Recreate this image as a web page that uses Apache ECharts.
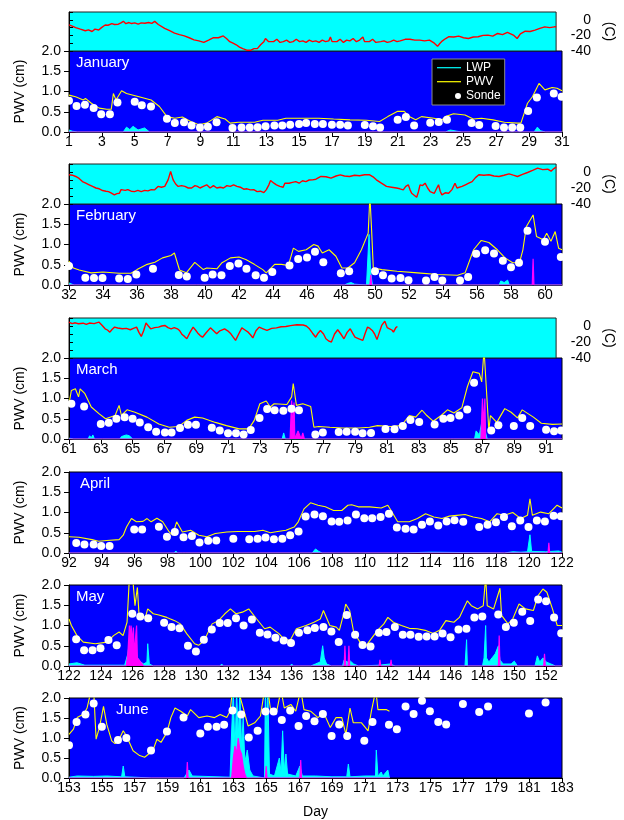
<!DOCTYPE html>
<html><head><meta charset="utf-8">
<script src="https://cdn.jsdelivr.net/npm/echarts@6/dist/echarts.min.js"></script>
<style>html,body{margin:0;padding:0;background:#fff}#c{width:624px;height:820px}</style>
</head><body><div id="c"></div>
<script>
// ---------------- DATA ----------------
const months = ['January','February','March','April','May','June'];
const startDays = [1,32,61,92,122,153];
const endDays = [31,61,92,122,153,183];
const pwvTickLabels = ['0.0','0.5','1.0','1.5','2.0'];
const tempTickLabels = ['0','-20','-40'];

// Air temperature (C): [day, value]
const tempJan = [[1.0,-6.6],[1.2,-8],[1.41,-10],[1.7,-12],[2.0,-14],[2.2,-13],[2.42,-15],[2.6,-12],[2.83,-13],[3.0,-10],[3.23,-6.6],[3.4,-7],[3.64,-5],[3.8,-6],[4.04,-5.7],[4.2,-4],[4.35,-2],[4.5,-5],[4.7,-3.5],[4.86,-4.8],[5.05,-4],[5.26,-5.6],[5.45,-4],[5.67,-4.5],[5.9,-3.5],[6.1,-4.5],[6.28,-2],[6.5,-6],[6.89,-11],[7.2,-14],[7.5,-17],[7.8,-19],[8.1,-20.7],[8.4,-23],[8.7,-25.7],[9.0,-27],[9.3,-29],[9.6,-26],[9.9,-22.8],[10.2,-23],[10.5,-20.7],[10.7,-24],[10.9,-28],[11.1,-30],[11.3,-32],[11.5,-35],[11.7,-37],[11.95,-39],[12.2,-39],[12.4,-37],[12.6,-37],[12.8,-32],[13.0,-28],[13.1,-24],[13.3,-28],[13.6,-28],[13.8,-25],[14.0,-29],[14.2,-28],[14.4,-26],[14.6,-29],[14.8,-28],[15.0,-25],[15.2,-28],[15.4,-27],[15.6,-29],[15.8,-26],[16.0,-28],[16.2,-27],[16.4,-29],[16.6,-26],[16.8,-28],[17.0,-27],[17.1,-22],[17.2,-28],[17.5,-28],[17.7,-25],[17.9,-29],[18.1,-26],[18.3,-27],[18.5,-24],[18.7,-28],[18.9,-26],[19.1,-22],[19.2,-28],[19.5,-28],[19.7,-25],[19.9,-29],[20.2,-28],[20.4,-27],[20.6,-29],[20.8,-28],[21.0,-26],[21.2,-28],[21.4,-27],[21.7,-25],[22.0,-25],[22.3,-26],[22.6,-26],[22.9,-27],[23.2,-26],[23.5,-30],[23.7,-34],[23.85,-30],[24.0,-27],[24.2,-24],[24.4,-21.7],[24.7,-22],[25.0,-21],[25.3,-23],[25.6,-24],[25.9,-22],[26.2,-21.7],[26.5,-20],[26.8,-19.6],[27.1,-21],[27.4,-17.5],[27.7,-19],[28.0,-16],[28.2,-18],[28.4,-20],[28.6,-24],[28.8,-18],[29.1,-14.6],[29.4,-15],[29.7,-13.3],[30.0,-11],[30.3,-9],[30.6,-10],[30.9,-9],[31.0,-9]];
const tempFeb = [[32.0,-3.5],[32.2,-4],[32.4,-5.6],[32.6,-8],[32.8,-12],[33.0,-14],[33.2,-16],[33.4,-18],[33.6,-20],[33.8,-21],[34.0,-23.2],[34.2,-24],[34.35,-24.5],[34.5,-26],[34.7,-28.6],[34.85,-27],[35.0,-26.6],[35.1,-22],[35.2,-20],[35.35,-23],[35.5,-22],[35.7,-24],[35.9,-24.5],[36.1,-23],[36.3,-24.5],[36.5,-23],[36.7,-23.6],[36.9,-22],[37.1,-22.3],[37.3,-18],[37.5,-19],[37.7,-18],[37.9,-9.8],[38.05,0.7],[38.2,-9.8],[38.35,-15],[38.5,-18],[38.7,-17],[38.9,-18],[39.1,-20],[39.3,-20],[39.5,-17],[39.65,-18],[39.8,-20],[40.0,-18],[40.2,-16],[40.4,-20],[40.6,-17],[40.8,-20],[41.0,-19],[41.2,-20],[41.4,-17],[41.6,-18],[41.8,-16],[42.0,-18],[42.2,-19],[42.4,-21.5],[42.6,-21],[42.8,-22.3],[43.0,-22],[43.2,-24.5],[43.4,-24],[43.6,-25.8],[43.75,-22],[43.9,-16],[44.0,-10.7],[44.2,-14],[44.35,-16],[44.55,-18],[44.75,-19],[44.85,-14],[44.95,-16],[45.1,-14],[45.3,-13],[45.5,-12],[45.7,-14],[45.9,-11],[46.1,-12],[46.3,-10],[46.5,-9.8],[46.7,-9],[47.0,-5.6],[47.3,-6],[47.6,-7.7],[47.9,-5],[48.15,-3.5],[48.4,-5],[48.7,-5.6],[49.0,-4],[49.3,-4.7],[49.6,-3.5],[49.9,-3.5],[50.1,-6],[50.3,-9.8],[50.6,-14],[50.9,-18],[51.2,-19],[51.5,-20],[51.7,-21],[51.9,-22.3],[52.05,-18],[52.2,-16],[52.3,-22],[52.4,-26.6],[52.55,-29],[52.7,-31.6],[52.8,-25],[52.9,-16],[53.05,-17],[53.2,-14],[53.35,-20],[53.5,-24.5],[53.6,-22],[53.75,-26.6],[53.9,-20],[54.0,-16],[54.1,-24],[54.2,-28.6],[54.4,-26],[54.6,-26.6],[54.8,-22],[54.98,-14],[55.1,-20],[55.2,-22.3],[55.4,-18],[55.6,-16],[55.8,-14],[56.0,-12],[56.2,-7],[56.4,-3.5],[56.7,-4],[57.0,-3.5],[57.3,-5],[57.6,-5.6],[57.9,-4],[58.2,-2.3],[58.45,-4],[58.7,-5.6],[59.0,-3],[59.3,-0.6],[59.6,2],[59.9,4.8],[60.2,3],[60.5,3.5],[60.7,1],[60.85,4],[61.0,6]];
const tempMar = [[61.0,4.9],[61.2,3],[61.4,4],[61.6,2.8],[61.9,3.5],[62.1,2],[62.3,3.7],[62.6,3],[62.9,4.9],[63.1,1],[63.3,-3.5],[63.45,-5],[63.6,-7.7],[63.75,-4],[63.9,-1.4],[64.1,-2.5],[64.4,-3.5],[64.65,-3],[64.9,-4.7],[65.1,-3],[65.3,-1.4],[65.45,-8],[65.6,-13],[65.75,-6],[65.9,3.7],[66.05,0],[66.2,-3.5],[66.45,-2],[66.7,-1.4],[66.9,0],[67.1,0.7],[67.3,-2],[67.5,-3.5],[67.7,-2],[67.9,-3.5],[68.05,-6],[68.2,-10.7],[68.35,-13],[68.5,-16],[68.7,-8],[68.9,-1.4],[69.05,-5],[69.2,-9],[69.35,-12],[69.5,-14],[69.7,-9],[70.0,-2.3],[70.2,-6],[70.4,-9.8],[70.6,-6],[70.9,-3.5],[71.1,-6],[71.3,-9.8],[71.45,-14],[71.6,-18],[71.8,-10],[72.0,-2.3],[72.2,-5],[72.4,-7.7],[72.55,-11],[72.7,-14.8],[72.9,-6],[73.1,-1.4],[73.35,-3.5],[73.6,-5.6],[73.9,-3],[74.2,-2.3],[74.5,-1],[74.8,-0.6],[75.1,0.5],[75.5,1.5],[75.9,1.2],[76.1,0],[76.3,-3.5],[76.5,-9],[76.7,-14],[76.85,-9],[77.0,-5.6],[77.2,-10],[77.35,-16],[77.55,-19],[77.7,-20],[77.9,-10],[78.1,-4.7],[78.3,-10],[78.5,-16],[78.7,-8],[78.9,-3.5],[79.05,-9],[79.2,-14],[79.45,-16],[79.7,-18],[79.85,-9],[80.0,-1.4],[80.15,-3],[80.3,-5.6],[80.45,-10],[80.6,-17],[80.75,-8],[80.9,0.7],[81.1,6],[81.25,-2],[81.4,-3.5],[81.55,-5],[81.65,-7.7],[81.8,-2],[81.9,-0.6]];

// Precipitable water vapour from radiometer (cm)
const pwvJan = [[1,0.91],[1.4,0.87],[1.87,0.79],[2.0,0.83],[2.36,0.71],[2.84,0.59],[3.3,0.56],[3.57,0.56],[3.7,0.95],[3.86,0.79],[4.2,1.02],[4.5,0.95],[5.26,0.87],[6.0,0.79],[6.5,0.63],[6.96,0.38],[7.44,0.34],[7.9,0.37],[8.4,0.26],[8.9,0.18],[9.38,0.22],[10.0,0.38],[10.5,0.32],[10.8,0.22],[11.3,0.24],[12.3,0.24],[12.8,0.29],[13.7,0.29],[14.2,0.34],[15.2,0.34],[16.2,0.34],[17.1,0.32],[18.1,0.30],[19.1,0.29],[19.9,0.26],[20.4,0.38],[21.0,0.51],[21.4,0.51],[21.7,0.38],[22.1,0.30],[22.45,0.38],[23.2,0.34],[23.7,0.30],[23.9,0.38],[24.4,0.45],[25.1,0.42],[25.6,0.32],[26.1,0.34],[26.8,0.30],[27.5,0.24],[28.3,0.22],[28.5,0.22],[28.9,0.71],[29.2,0.87],[29.6,1.2],[29.96,1.04],[30.4,1.1],[30.7,1.08],[31,1.02]];
const pwvFeb = [[32.0,0.59],[32.26,0.42],[32.6,0.37],[33.3,0.30],[34.0,0.32],[34.95,0.29],[35.65,0.29],[36.0,0.38],[36.6,0.51],[37.05,0.56],[37.5,0.67],[38.0,0.73],[38.2,0.79],[38.5,0.37],[38.9,0.30],[39.4,0.56],[39.9,0.38],[40.1,0.42],[40.7,0.40],[41.0,0.55],[41.5,0.67],[42.0,0.69],[42.4,0.63],[42.9,0.51],[43.4,0.38],[43.6,0.30],[44.1,0.51],[44.5,0.51],[44.9,0.48],[45.2,0.91],[45.5,0.83],[45.95,0.87],[46.4,1.0],[46.65,0.96],[46.9,0.79],[47.3,0.87],[47.7,0.71],[48.05,0.42],[48.4,0.42],[48.8,0.55],[49.2,0.87],[49.6,1.28],[49.7,2.2],[49.8,1.36],[49.9,0.42],[50.4,0.38],[51.3,0.34],[52.5,0.30],[53.7,0.26],[54.85,0.24],[55.3,0.30],[55.8,0.87],[56.25,1.10],[56.7,1.05],[57.2,0.87],[57.65,0.67],[58.1,0.55],[58.5,0.55],[58.7,0.87],[58.9,1.44],[59.3,1.73],[59.5,1.2],[59.9,1.12],[60.1,1.28],[60.35,1.08],[60.6,1.32],[60.8,0.91],[61,0.87]];
const pwvMar = [[61.0,0.87],[61.15,1.2],[61.4,1.24],[61.6,1.04],[61.7,1.24],[62.0,1.12],[62.4,0.79],[62.9,0.62],[63.3,0.5],[63.9,0.58],[64.15,0.83],[64.3,0.58],[64.65,0.72],[65.15,0.66],[65.9,0.54],[66.65,0.37],[67.3,0.29],[67.9,0.31],[68.4,0.46],[68.9,0.54],[69.4,0.52],[70.2,0.41],[70.9,0.33],[71.7,0.25],[72.3,0.25],[72.65,0.46],[73.0,0.87],[73.4,0.94],[73.65,0.79],[73.9,0.87],[74.7,0.85],[75.0,1.04],[75.1,1.37],[75.3,0.83],[75.7,0.87],[76.2,0.80],[76.4,0.29],[76.7,0.31],[77.4,0.29],[78.2,0.27],[79.2,0.27],[79.9,0.29],[80.4,0.33],[81.2,0.31],[81.9,0.33],[82.4,0.58],[82.8,0.54],[83.2,0.71],[83.5,0.58],[83.9,0.44],[84.4,0.58],[84.8,0.72],[85.2,0.64],[85.7,0.77],[86.05,1.29],[86.4,1.66],[86.8,1.62],[86.95,1.41],[87.1,2.2],[87.2,2.2],[87.4,0.21],[87.5,0.58],[87.9,0.41],[88.4,0.75],[88.8,0.66],[89.2,0.52],[89.5,0.72],[90.2,0.54],[90.7,0.39],[91.4,0.36],[92,0.37]];
const pwvApr = [[92.0,0.40],[92.6,0.39],[93.4,0.33],[93.8,0.29],[94.3,0.31],[95.05,0.33],[95.3,0.44],[95.5,0.64],[95.8,0.85],[96.1,0.77],[96.5,0.78],[96.75,0.85],[97.0,0.77],[97.35,0.86],[97.7,0.77],[98.1,0.52],[98.3,0.44],[98.55,0.77],[98.9,0.52],[99.4,0.56],[99.9,0.44],[100.4,0.40],[100.9,0.48],[101.6,0.52],[102.3,0.53],[103.3,0.53],[103.8,0.56],[104.25,0.50],[104.7,0.53],[105.2,0.56],[105.7,0.64],[105.95,0.77],[106.3,1.09],[106.7,1.24],[107.15,1.18],[107.6,1.14],[108.1,1.05],[108.6,1.05],[108.97,1.18],[109.2,1.19],[109.6,1.14],[110.3,1.14],[111.0,1.11],[111.4,1.18],[111.6,1.05],[112.0,0.77],[112.7,0.77],[113.2,0.85],[113.7,0.97],[114.2,0.89],[114.7,0.85],[115.15,0.91],[115.6,0.93],[116.1,0.95],[116.6,0.89],[117.1,0.85],[117.6,0.77],[118.05,0.97],[118.5,0.93],[119.0,1.0],[119.5,0.85],[119.9,0.93],[120.05,1.34],[120.2,0.93],[120.7,1.01],[121.2,0.97],[121.7,1.18],[122,1.11]];
const pwvMay = [[122.0,1.16],[122.15,1.0],[122.5,0.75],[122.9,0.59],[123.65,0.55],[124.4,0.59],[124.8,0.75],[125.15,0.84],[125.4,0.75],[125.65,1.08],[125.8,2.2],[126.0,2.2],[126.15,1.49],[126.3,1.94],[126.4,1.29],[126.8,1.2],[126.95,1.41],[127.3,1.29],[127.65,1.26],[128.15,1.2],[128.65,1.12],[129.0,1.04],[129.4,0.80],[129.9,0.55],[130.15,0.51],[130.5,0.63],[131.0,1.04],[131.4,1.12],[131.8,1.29],[132.15,1.41],[132.5,1.29],[132.9,1.33],[133.3,1.41],[133.8,1.16],[134.3,0.92],[134.65,0.96],[135.2,0.80],[135.5,0.67],[135.9,0.63],[136.3,0.92],[136.9,1.0],[137.4,1.08],[137.8,1.16],[138.0,1.37],[138.4,1.0],[138.8,0.96],[139.0,0.88],[139.3,1.33],[139.4,1.53],[139.65,1.37],[139.9,0.84],[140.3,0.59],[140.7,0.51],[141.0,0.67],[141.4,0.88],[141.8,1.04],[142.05,1.2],[142.4,1.08],[142.9,1.0],[143.4,0.93],[143.9,0.92],[144.4,0.88],[144.9,0.80],[145.3,0.88],[145.7,1.12],[146.2,1.08],[146.55,1.2],[146.8,1.41],[147.05,1.61],[147.3,1.49],[147.7,1.41],[148.05,1.49],[148.2,2.2],[148.3,1.49],[148.7,1.41],[149.1,1.92],[149.2,1.25],[149.6,1.04],[149.9,1.16],[150.3,1.53],[150.7,1.41],[151.2,1.37],[151.5,1.74],[151.8,1.9],[152.05,1.82],[152.4,1.41],[152.7,1.0],[153,1.0]];
const pwvJun = [[153.0,1.09],[153.27,1.22],[153.5,1.51],[153.9,1.6],[154.1,1.75],[154.35,2.2],[154.5,2.2],[154.65,0.97],[154.85,1.26],[155.1,1.79],[155.3,1.34],[155.6,0.93],[155.8,0.86],[156.05,0.97],[156.3,1.18],[156.5,1.05],[156.9,0.68],[157.3,0.56],[157.6,0.52],[158.1,0.68],[158.35,0.97],[158.6,0.89],[158.96,1.14],[159.2,1.51],[159.45,1.75],[159.8,1.67],[160.2,1.55],[160.4,1.71],[160.9,1.51],[161.4,1.55],[161.86,1.51],[162.2,1.59],[162.6,1.51],[162.8,1.67],[162.95,2.2],[163.3,2.2],[163.6,1.75],[163.9,1.30],[164.3,1.38],[164.65,1.55],[164.9,2.2],[165.1,2.2],[165.25,1.75],[165.6,1.59],[165.9,2.2],[166.1,1.75],[166.5,1.84],[166.8,1.67],[167.1,2.2],[167.3,1.71],[167.7,1.67],[168.15,1.51],[168.5,1.63],[168.9,1.26],[169.25,1.51],[169.6,1.51],[169.85,1.09],[170.1,1.75],[170.3,1.38],[170.8,1.38],[171.2,1.18],[171.4,1.67],[171.67,2.2],[171.8,1.71],[172.3,1.71],[172.5,1.67]];

// Radiosonde PWV (cm)
const sondeJan = [[1.0,0.77],[1.46,0.64],[1.97,0.67],[2.5,0.59],[2.96,0.44],[3.49,0.44],[3.95,0.73],[5.0,0.75],[5.43,0.66],[5.99,0.63],[6.96,0.33],[7.44,0.22],[8.0,0.24],[8.46,0.16],[8.97,0.11],[9.45,0.13],[9.98,0.24],[10.95,0.10],[11.5,0.11],[12.0,0.11],[12.48,0.12],[12.96,0.14],[13.5,0.16],[13.98,0.16],[14.46,0.18],[15.0,0.20],[15.43,0.22],[15.96,0.20],[16.45,0.20],[17.0,0.18],[17.5,0.18],[17.97,0.16],[19.0,0.17],[19.5,0.14],[19.93,0.11],[21.0,0.30],[21.5,0.37],[22.0,0.16],[22.98,0.23],[23.5,0.25],[24.0,0.30],[25.5,0.22],[25.96,0.17],[26.96,0.15],[27.47,0.11],[27.97,0.11],[28.46,0.11],[28.94,0.52],[29.47,0.85],[30.5,0.95],[30.98,0.87]];
const sondeFeb = [[32.0,0.47],[32.96,0.18],[33.47,0.17],[33.97,0.17],[34.95,0.16],[35.46,0.15],[35.96,0.26],[36.94,0.40],[38.46,0.25],[38.93,0.21],[39.98,0.18],[40.45,0.26],[40.97,0.24],[41.46,0.47],[41.97,0.53],[42.44,0.40],[42.98,0.24],[43.47,0.18],[43.96,0.32],[44.97,0.48],[45.48,0.64],[46.0,0.68],[46.47,0.82],[46.96,0.56],[47.99,0.29],[48.48,0.34],[50.0,0.34],[50.47,0.24],[50.98,0.16],[51.5,0.17],[51.97,0.12],[53.0,0.11],[53.5,0.20],[53.96,0.11],[55.0,0.11],[55.48,0.20],[55.95,0.77],[56.48,0.86],[57.0,0.78],[57.52,0.60],[58.0,0.44],[58.47,0.55],[58.97,1.34],[60.0,1.07],[60.93,0.69]];
const sondeMar = [[61.15,0.87],[61.95,0.80],[63.0,0.37],[63.5,0.40],[63.98,0.50],[64.5,0.54],[65.0,0.50],[65.45,0.41],[65.98,0.29],[66.48,0.18],[67.03,0.16],[67.45,0.16],[67.98,0.27],[68.48,0.35],[68.98,0.35],[69.98,0.28],[70.48,0.21],[71.0,0.14],[71.5,0.14],[71.98,0.11],[72.43,0.22],[72.98,0.52],[73.46,0.74],[73.93,0.71],[74.48,0.70],[74.99,0.75],[75.46,0.71],[76.49,0.11],[76.96,0.16],[77.96,0.17],[78.46,0.18],[78.99,0.18],[79.46,0.14],[79.99,0.15],[80.9,0.25],[81.47,0.24],[81.99,0.32],[82.47,0.47],[83.02,0.42],[83.99,0.36],[84.54,0.50],[84.99,0.52],[85.54,0.58],[86.04,0.73],[86.47,1.39],[87.55,0.21],[88.0,0.34],[88.97,0.32],[89.5,0.52],[90.0,0.32],[91.0,0.23],[91.5,0.19],[91.95,0.21]];
const sondeApr = [[92.44,0.25],[92.94,0.21],[93.5,0.21],[93.96,0.17],[94.47,0.17],[95.97,0.58],[96.45,0.58],[97.47,0.65],[97.96,0.40],[98.44,0.52],[98.97,0.39],[99.48,0.42],[99.94,0.26],[100.47,0.30],[100.96,0.31],[102.0,0.35],[102.97,0.34],[103.48,0.35],[103.96,0.38],[104.47,0.34],[104.98,0.35],[105.46,0.44],[105.97,0.53],[106.4,0.90],[106.94,0.95],[107.45,0.91],[107.98,0.78],[108.44,0.77],[108.95,0.80],[109.46,0.95],[109.97,0.86],[110.45,0.86],[110.96,0.89],[111.47,0.97],[111.95,0.63],[112.48,0.60],[112.97,0.58],[113.48,0.70],[113.96,0.78],[114.47,0.68],[114.98,0.78],[115.46,0.81],[115.99,0.77],[116.96,0.64],[117.47,0.70],[117.98,0.76],[118.47,0.89],[118.95,0.66],[119.46,0.80],[119.96,0.64],[120.47,0.80],[120.96,0.78],[121.49,0.92],[121.93,0.91]];
const sondeMay = [[122.45,0.66],[122.95,0.39],[123.48,0.39],[123.98,0.44],[124.48,0.64],[125.0,0.51],[125.98,1.29],[126.48,1.22],[126.98,1.18],[127.98,1.07],[128.45,0.96],[128.95,0.93],[129.48,0.50],[129.98,0.36],[130.48,0.65],[130.98,0.90],[131.48,1.06],[131.98,1.06],[132.5,1.18],[132.98,1.0],[133.5,1.15],[134.0,0.82],[134.48,0.78],[134.98,0.70],[135.5,0.63],[135.96,0.57],[136.46,0.82],[136.99,0.88],[137.46,0.94],[138.0,0.96],[138.5,0.85],[138.96,0.59],[139.46,1.26],[139.99,0.77],[140.46,0.52],[140.96,0.48],[141.49,0.82],[141.96,0.84],[142.49,0.96],[142.99,0.77],[143.47,0.77],[143.99,0.72],[144.49,0.73],[144.99,0.73],[145.49,0.80],[145.99,0.71],[146.49,0.90],[146.99,0.92],[147.49,1.2],[147.99,1.22],[148.99,1.27],[149.47,0.96],[149.97,1.07],[150.5,1.34],[151.0,1.11],[151.5,1.64],[152.0,1.6],[152.5,1.20],[152.95,0.81]];
const sondeJun = [[153.0,0.82],[153.46,1.40],[154.0,1.59],[154.5,1.86],[155.0,1.28],[155.98,0.95],[156.49,1.0],[157.99,0.69],[158.96,1.16],[159.97,1.51],[160.99,1.11],[161.45,1.28],[161.98,1.28],[162.44,1.33],[162.95,1.69],[163.48,1.59],[163.94,1.01],[164.48,1.18],[164.96,1.66],[165.45,1.66],[165.95,1.45],[166.46,1.69],[166.97,1.30],[167.43,1.55],[167.94,1.42],[168.45,1.60],[168.98,1.05],[169.44,1.34],[169.93,1.05],[170.97,0.93],[171.47,1.40],[172.47,1.33],[172.95,1.22],[173.48,1.79],[173.97,1.60],[174.48,1.93],[174.96,1.67],[175.47,1.40],[175.95,1.34],[176.97,1.85],[177.96,1.65],[178.5,1.79],[180.99,1.61],[182.0,1.89]];

// Liquid water path
const lwpJan = [[1,0.05],[1.2,0.02],[1.5,0],[4.3,0],[4.5,0.12],[4.7,0.06],[4.9,0.14],[5.2,0.05],[5.6,0.1],[5.9,0],[23.9,0],[24.2,0.05],[24.6,0.02],[24.9,0],[29.3,0],[29.5,0.12],[29.7,0.03],[30.0,0],[31,0]];
const lwpFeb = [[32,0.05],[32.3,0],[39.5,0],[39.6,0.03],[39.7,0],[46.2,0],[46.3,0.03],[46.4,0],[48.2,0],[48.4,0.04],[48.6,0.06],[48.8,0.02],[49.5,0],[49.65,1.25],[49.75,0.3],[49.85,0],[57.3,0],[57.4,0.1],[57.6,0.06],[57.8,0.12],[57.9,0],[61,0]];
const lwpMar = [[61,0.02],[61.3,0],[62.2,0],[62.3,0.08],[62.4,0.03],[62.5,0.1],[62.6,0],[63.1,0],[64.2,0],[64.3,0.06],[64.6,0.1],[64.8,0.08],[65.0,0],[73.0,0],[73.1,0.03],[73.2,0],[74.4,0],[74.5,0.15],[74.6,0],[85.0,0],[85.1,0.03],[85.2,0],[86.5,0],[86.6,0.2],[86.8,0.1],[87.0,0.5],[87.1,0.3],[87.3,0],[92,0]];
const lwpApr = [[92,0],[98.4,0],[98.5,0.05],[98.6,0],[98.9,0],[99.0,0.03],[99.1,0],[106.8,0],[107.0,0.1],[107.2,0.04],[107.4,0],[112,0],[114,0.02],[118.5,0],[119,0.03],[119.5,0.02],[119.9,0.03],[120.05,0.45],[120.15,0.04],[121,0.03],[121.8,0.05],[122,0.02]];
const lwpMay = [[122,0.05],[122.5,0.08],[123,0.02],[125.5,0.02],[125.7,0.3],[125.8,0.6],[125.9,0.4],[126.0,0.55],[126.1,0.3],[126.2,0.4],[126.3,0.2],[126.5,0.1],[126.7,0.05],[126.9,0.1],[126.95,0.55],[127.05,0.05],[127.3,0],[131.5,0],[131.6,0.05],[131.7,0],[135.9,0],[136.0,0.05],[136.1,0],[137.2,0],[137.5,0.05],[137.8,0.1],[137.95,0.5],[138.05,0.2],[138.2,0.05],[138.5,0],[139.2,0],[139.3,0.15],[139.5,0.1],[139.7,0.12],[139.9,0.05],[140.2,0],[141.5,0.02],[142.2,0.05],[142.5,0],[146.9,0],[147.0,0.65],[147.05,0],[148.0,0],[148.1,0.2],[148.2,1.0],[148.25,0.2],[148.4,0.1],[148.6,0.2],[148.8,0.3],[149.0,0.5],[149.1,0.15],[149.3,0.05],[149.8,0.05],[150.0,0.12],[150.2,0],[151.3,0],[151.45,0.25],[151.6,0.1],[151.8,0.2],[152.0,0.1],[152.3,0.05],[152.6,0],[153,0]];
const lwpJun = [[153,0.02],[153.5,0.05],[154.5,0.04],[155.3,0.05],[156.2,0.03],[156.3,0.3],[156.4,0.03],[157,0.02],[158,0],[160.0,0],[160.3,0.2],[160.5,0.05],[162.8,0.02],[162.9,1.2],[163.0,2.2],[163.1,0.6],[163.2,2.2],[163.3,1.0],[163.4,2.2],[163.5,0.8],[163.6,1.5],[163.7,0.4],[163.85,0.7],[164.0,0.2],[164.2,0.05],[164.9,0],[164.95,2.2],[165.05,1.0],[165.1,2.2],[165.2,0.1],[165.5,0.05],[165.8,0.5],[165.9,0.15],[166.0,1.18],[166.1,0.2],[166.2,0.6],[166.3,0.1],[166.8,0.05],[167.05,0.3],[167.2,0.05],[168,0.05],[169,0.03],[169.9,0.03],[170.0,0.35],[170.1,0.03],[171.0,0.05],[171.65,0.05],[171.7,0.7],[171.8,0.05],[172.0,0.15],[172.1,0.05],[172.4,0.2],[172.5,0]];

// Magenta trace
const rainJan = [[1,0],[31,0]];
const rainFeb = [[32,0],[49.7,0],[49.75,0.25],[49.8,0],[59.25,0],[59.3,0.65],[59.35,0],[61,0]];
const rainMar = [[61,0],[74.9,0],[75.0,0.95],[75.05,0.2],[75.15,0.9],[75.2,0],[75.4,0.2],[75.6,0],[75.7,0.15],[75.8,0],[86.9,0],[87.0,1.0],[87.05,0.3],[87.15,1.0],[87.2,0],[92,0]];
const rainApr = [[92,0],[121.15,0],[121.2,0.25],[121.25,0],[122,0]];
const rainMay = [[122,0],[125.6,0],[125.7,0.3],[125.8,1.0],[125.85,0.5],[125.9,1.0],[126.0,0.6],[126.05,0.95],[126.1,0.3],[126.25,1.0],[126.3,0.2],[126.5,0.1],[126.7,0],[139.3,0],[139.35,0.5],[139.4,0],[139.55,0],[139.6,0.5],[139.65,0],[141.5,0],[141.55,0.15],[141.6,0],[142.2,0],[142.25,0.15],[142.3,0],[149.0,0],[149.05,0.75],[149.1,0],[151.85,0],[151.9,0.3],[151.95,0],[153,0]];
const rainJun = [[153,0],[160.15,0],[160.2,0.4],[160.25,0],[162.9,0],[163.0,0.5],[163.1,0.8],[163.2,0.6],[163.3,1.0],[163.4,0.7],[163.5,0.6],[163.6,0.3],[163.7,0.1],[163.8,0],[164.95,0],[165.0,0.3],[165.05,0],[167.05,0],[167.1,0.45],[167.15,0],[172.5,0]];

const pwvAll = [pwvJan,pwvFeb,pwvMar,pwvApr,pwvMay,pwvJun];
const sondeAll = [sondeJan,sondeFeb,sondeMar,sondeApr,sondeMay,sondeJun];
const lwpAll = [lwpJan,lwpFeb,lwpMar,lwpApr,lwpMay,lwpJun];
const rainAll = [rainJan,rainFeb,rainMar,rainApr,rainMay,rainJun];
const tempAll = [tempJan,tempFeb,tempMar];

// ---------------- LAYOUT ----------------
const FONT = 'Liberation Sans, Arial, Helvetica, sans-serif';
const PLOT_L = 69, PLOT_W = 493;
const pwvTop = [51,204,358,472,585,698];
const PWV_H = 81;
const tempTop = [12,164,318];
const monthLabelPos = [[76,55],[76,208],[76,362],[80,476],[76,589],[116,702]];
const LINE_ICON = 'path://M0,0L0,0M0,4.6L24,4.6L24,5.8L0,5.8ZM24,11L24,11';
const DOT_ICON = 'path://M0,0L0,0M18,5.5a3,3 0 1,0 6,0a3,3 0 1,0 -6,0ZM24,11L24,11';

const grids = [], xAxes = [], yAxes = [], series = [], titles = [];
const shift = (arr, s) => arr.map(p => [p[0]-s, p[1]]);

for (let i = 0; i < 6; i++) {
  const s = startDays[i], e = endDays[i];
  grids.push({left:PLOT_L, width:PLOT_W, top:pwvTop[i], height:PWV_H, show:true,
    backgroundColor:'#0000ff', borderColor:'#000', borderWidth:1});
  const xa = {gridIndex:i, type:'value', min:0, max:e-s, interval:2,
    axisLine:{show:true, onZero:false, lineStyle:{color:'#000', width:1}},
    axisTick:{show:true, inside:false, length:5, lineStyle:{color:'#000'}},
    axisLabel:{color:'#000', fontSize:14, fontFamily:FONT, margin:3,
      showMaxLabel:(e-s)%2===0, formatter:v=>String(Math.round(v+s))},
    splitLine:{show:false}};
  if (i === 5) {
    xa.name = 'Day'; xa.nameLocation = 'middle'; xa.nameGap = 27;
    xa.nameTextStyle = {color:'#000', fontSize:14, fontFamily:FONT};
  }
  xAxes.push(xa);
  yAxes.push({gridIndex:i, type:'value', min:0, max:2, interval:0.5,
    name:'PWV (cm)', nameLocation:'middle', nameGap:42, nameRotate:90,
    nameTextStyle:{color:'#000', fontSize:14, fontFamily:FONT},
    axisLine:{show:true, lineStyle:{color:'#000'}},
    axisTick:{show:true, inside:false, length:5, lineStyle:{color:'#000'}},
    axisLabel:{color:'#000', fontSize:14, fontFamily:FONT, margin:8,
      formatter:v=>pwvTickLabels[Math.round(v*2)]},
    splitLine:{show:false}});
  titles.push({text:months[i], left:monthLabelPos[i][0], top:monthLabelPos[i][1], padding:0,
    textStyle:{color:'#fff', fontSize:15, fontWeight:'normal', fontFamily:FONT}});
}
for (let j = 0; j < 3; j++) {
  const s = startDays[j], e = endDays[j];
  grids.push({left:PLOT_L, width:PLOT_W, top:tempTop[j], height:pwvTop[j]-tempTop[j], show:true,
    backgroundColor:'#00ffff', borderColor:'#222', borderWidth:1});
  xAxes.push({gridIndex:6+j, type:'value', min:0, max:e-s, show:false});
  yAxes.push({gridIndex:6+j, type:'value', position:'right', min:-40, max:10, interval:10,
    name:'(C)', nameLocation:'middle', nameGap:42, nameRotate:-90,
    nameTextStyle:{color:'#000', fontSize:14, fontFamily:FONT},
    axisLine:{show:true, lineStyle:{color:'#000'}},
    axisTick:{show:true, inside:false, length:4, lineStyle:{color:'#000'}},
    axisLabel:{color:'#000', fontSize:14, fontFamily:FONT, margin:35, align:'right',
      formatter:v=>tempTickLabels.includes(String(v)) ? String(v) : ''},
    splitLine:{show:false}});
}

for (let i = 0; i < 6; i++) {
  const s = startDays[i];
  series.push({name:'LWP', type:'line', xAxisIndex:i, yAxisIndex:i, data:shift(lwpAll[i], s),
    symbol:'none', lineStyle:{color:'#00ffff', width:1}, itemStyle:{color:'#00ffff'},
    areaStyle:{color:'#00ffff', opacity:1}, z:2, clip:true});
  series.push({name:'Rain', type:'line', xAxisIndex:i, yAxisIndex:i, data:shift(rainAll[i], s),
    symbol:'none', lineStyle:{color:'#ff00ff', width:1.2}, itemStyle:{color:'#ff00ff'},
    areaStyle:{color:'#ff00ff', opacity:1}, z:3, clip:true});
  series.push({name:'PWV', type:'line', xAxisIndex:i, yAxisIndex:i, data:shift(pwvAll[i], s),
    symbol:'none', lineStyle:{color:'#ffff00', width:1.1}, itemStyle:{color:'#ffff00'}, z:4, clip:true});
  series.push({name:'Sonde', type:'scatter', xAxisIndex:i, yAxisIndex:i, data:shift(sondeAll[i], s),
    symbol:'circle', symbolSize:8, itemStyle:{color:'#ffffff', opacity:1}, z:5, clip:false});
}
for (let j = 0; j < 3; j++) {
  series.push({name:'Temperature', type:'line', xAxisIndex:6+j, yAxisIndex:6+j,
    data:shift(tempAll[j], startDays[j]), symbol:'none',
    lineStyle:{color:'#ff0000', width:1.4}, z:3, clip:true});
}

const chart = echarts.init(document.getElementById('c'), null, {renderer:'canvas'});
chart.setOption({
  animation:false,
  backgroundColor:'#ffffff',
  textStyle:{fontFamily:FONT},
  title:titles,
  legend:{data:[{name:'LWP', icon:LINE_ICON},{name:'PWV', icon:LINE_ICON},{name:'Sonde', icon:DOT_ICON}],
    orient:'vertical', left:432, top:59, padding:[3,4,3,5], itemGap:2,
    itemWidth:24, itemHeight:11, selectedMode:false,
    backgroundColor:'#000', borderColor:'#8a8a8a', borderWidth:1,
    textStyle:{color:'#fff', fontSize:12, fontFamily:FONT}},
  grid:grids, xAxis:xAxes, yAxis:yAxes, series:series
});
</script></body></html>
